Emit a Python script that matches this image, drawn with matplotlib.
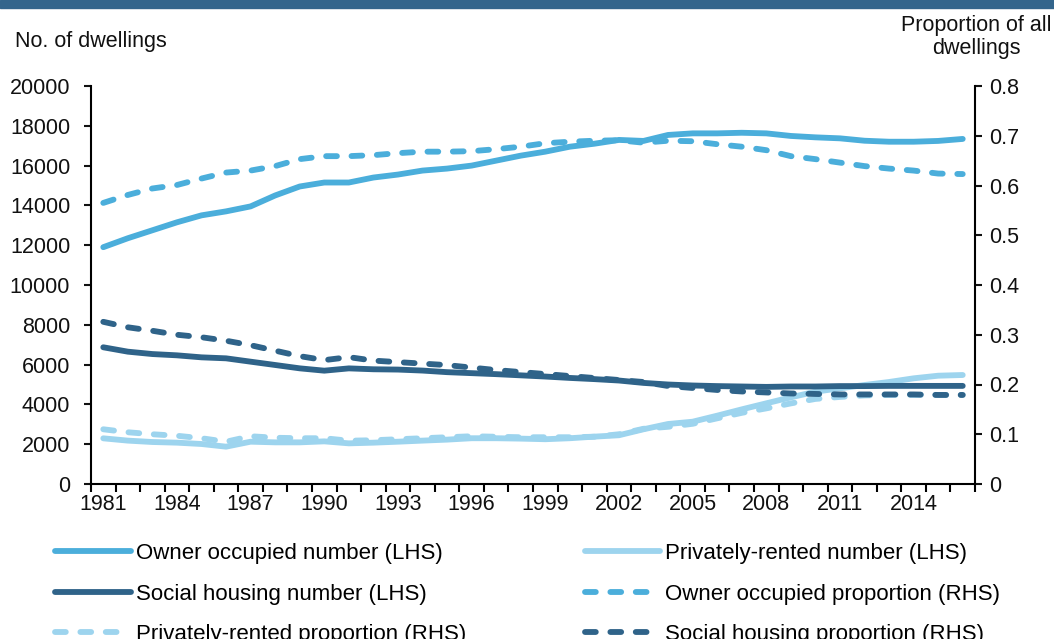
import matplotlib
matplotlib.use("Agg")
import matplotlib.pyplot as plt
from matplotlib.patches import Rectangle
from matplotlib.ticker import FixedLocator

plt.rcParams["font.family"] = ["Liberation Sans", "DejaVu Sans"]

years = list(range(1981, 2017))

# dwellings, thousands (left axis)
owner_number = [11900, 12350, 12750, 13150, 13500, 13700, 13950, 14500, 14950, 15150,
                15150, 15400, 15550, 15750, 15850, 16000, 16250, 16500, 16700, 16950,
                17100, 17290, 17240, 17540, 17620, 17620, 17650, 17620, 17490, 17420,
                17370, 17250, 17200, 17200, 17240, 17340]
private_number = [2295, 2180, 2110, 2077, 2010, 1876, 2126, 2093, 2093, 2143,
                  2043, 2077, 2126, 2180, 2230, 2300, 2300, 2280, 2250, 2300,
                  2380, 2450, 2750, 3015, 3130, 3433, 3750, 4054, 4355, 4640,
                  4807, 4975, 5126, 5310, 5442, 5477]
social_number = [6870, 6650, 6530, 6466, 6365, 6315, 6147, 5980, 5812, 5695,
                 5810, 5765, 5750, 5700, 5620, 5570, 5520, 5460, 5400, 5330,
                 5270, 5200, 5080, 5000, 4950, 4920, 4900, 4880, 4900, 4900,
                 4920, 4920, 4930, 4930, 4930, 4930]

# share of all dwellings (right axis)
owner_share = [0.565, 0.581, 0.594, 0.601, 0.614, 0.626, 0.630, 0.639, 0.653, 0.659,
               0.659, 0.661, 0.665, 0.668, 0.668, 0.669, 0.673, 0.678, 0.685, 0.688,
               0.690, 0.691, 0.686, 0.690, 0.689, 0.683, 0.678, 0.671, 0.659, 0.653,
               0.646, 0.639, 0.634, 0.630, 0.624, 0.623]
private_share = [0.110, 0.104, 0.100, 0.097, 0.092, 0.085, 0.096, 0.093, 0.092, 0.092,
                 0.087, 0.088, 0.090, 0.092, 0.094, 0.096, 0.095, 0.094, 0.094, 0.094,
                 0.095, 0.100, 0.111, 0.115, 0.121, 0.132, 0.143, 0.152, 0.162, 0.171,
                 0.175, 0.178, 0.179, 0.179, 0.179, 0.179]
social_share = [0.326, 0.315, 0.308, 0.300, 0.295, 0.288, 0.279, 0.268, 0.257, 0.249,
                0.255, 0.248, 0.245, 0.242, 0.239, 0.234, 0.229, 0.225, 0.221, 0.217,
                0.213, 0.209, 0.205, 0.197, 0.193, 0.189, 0.186, 0.184, 0.182, 0.181,
                0.180, 0.180, 0.180, 0.180, 0.179, 0.179]

label_years = list(range(1981, 2015, 3))

OWNER = "#4BAEDB"
PRIVATE = "#9DD4EE"
SOCIAL = "#2F6389"
FS = 15.5
LW = 4.2
DASH = (0, (1.85, 2.5))

fig = plt.figure(figsize=(10.54, 6.39), dpi=100)
fig.patches.append(Rectangle((0, 1 - 8 / 639), 1, 8 / 639, transform=fig.transFigure,
                             color="#33658C", zorder=0))

ax = fig.add_axes([91 / 1054, 1 - 484 / 639, 884 / 1054, 398 / 639])
ax2 = ax.twinx()

kw = dict(linewidth=LW, solid_capstyle="round", dash_capstyle="round")
h_own, = ax.plot(years, owner_number, color=OWNER, **kw)
h_priv, = ax.plot(years, private_number, color=PRIVATE, **kw)
h_soc, = ax.plot(years, social_number, color=SOCIAL, **kw)
h_own_s, = ax2.plot(years, owner_share, color=OWNER, linestyle=DASH, **kw)
h_priv_s, = ax2.plot(years, private_share, color=PRIVATE, linestyle=DASH, **kw)
h_soc_s, = ax2.plot(years, social_share, color=SOCIAL, linestyle=DASH, **kw)

ax.set_xlim(1980.5, 2016.5)
ax.set_ylim(0, 20000)
ax2.set_ylim(0, 0.8)
ax.set_yticks(range(0, 20001, 2000))
ax2.set_yticks([i / 10 for i in range(9)])
ax2.set_yticklabels(["0"] + [f"{i / 10:.1f}" for i in range(1, 9)])

ax.xaxis.set_major_locator(FixedLocator(label_years))
ax.set_xticklabels([str(y) for y in label_years])
ax.xaxis.set_minor_locator(FixedLocator([y - 0.5 for y in years] + [2016.5]))
ax.tick_params(axis="x", which="major", length=0, pad=7, labelsize=FS, colors="#111111")
ax.tick_params(axis="x", which="minor", length=6, width=1.5, direction="out")
ax.tick_params(axis="y", length=5, width=1.5, pad=10, labelsize=FS, colors="#111111")
ax2.tick_params(axis="y", length=5, width=1.5, pad=5, labelsize=FS, colors="#111111")

for a in (ax, ax2):
    a.spines["top"].set_visible(False)
    for s in a.spines.values():
        s.set_linewidth(1.5)
ax.spines["right"].set_visible(False)
ax2.spines["left"].set_visible(False)
ax2.spines["bottom"].set_visible(False)

fig.text(15 / 1054, 1 - 42 / 639, "No. of dwellings", fontsize=FS, ha="left", va="center",
         color="#111111")
fig.text(976 / 1054, 1 - 37 / 639, "Proportion of all\ndwellings", fontsize=FS,
         ha="center", va="center", multialignment="center", linespacing=1.1,
         color="#111111")

handles = [h_own, h_soc, h_priv_s, h_priv, h_own_s, h_soc_s]
labels = ["Owner occupied number (LHS)", "Social housing number (LHS)",
          "Privately-rented proportion (RHS)", "Privately-rented number (LHS)",
          "Owner occupied proportion (RHS)", "Social housing proportion (RHS)"]
fig.legend(handles, labels, loc="upper left", bbox_to_anchor=(55 / 1054, 1 - 543 / 639),
           bbox_transform=fig.transFigure, ncol=2, frameon=False, fontsize=16,
           borderpad=0, borderaxespad=0, handlelength=3.4, handletextpad=0.23,
           columnspacing=5.35, labelspacing=0.88)

fig.savefig("out.png", dpi=100, facecolor="white")
